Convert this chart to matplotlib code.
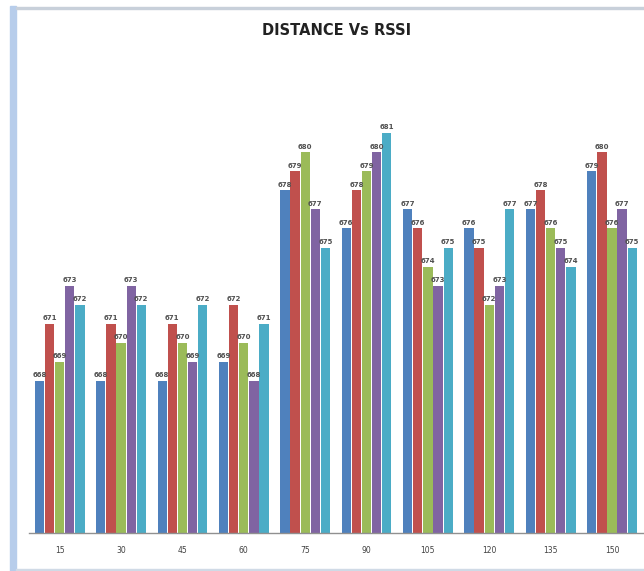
import numpy as np
import matplotlib
matplotlib.use("Agg")
import matplotlib.pyplot as plt
from matplotlib.patches import Rectangle

distances = ["15", "30", "45", "60", "75", "90", "105", "120", "135", "150"]

serie_1 = [668, 668, 668, 669, 678, 676, 677, 676, 677, 679]
serie_2 = [671, 671, 671, 672, 679, 678, 676, 675, 678, 680]
serie_3 = [669, 670, 670, 670, 680, 679, 674, 672, 676, 676]
serie_4 = [673, 673, 669, 668, 677, 680, 673, 673, 675, 677]
serie_5 = [672, 672, 672, 671, 675, 681, 675, 677, 674, 675]

series = [serie_1, serie_2, serie_3, serie_4, serie_5]
colores = ["#4F81BD", "#C0504D", "#9BBB59", "#8064A2", "#4BACC6"]

plt.rcParams["font.family"] = ["Liberation Sans Narrow", "DejaVu Sans"]

fig = plt.figure(figsize=(6.44, 5.71), dpi=100)
ax = fig.add_axes([0.045, 0.0665, 0.953, 0.80])

x = np.arange(len(distances))
ancho = 0.165
for i, (vals, col) in enumerate(zip(series, colores)):
    pos = x + (i - 2) * ancho
    ax.bar(pos, np.array(vals) - 660, bottom=660, width=ancho * 0.92,
           color=col, edgecolor="none")
    for px, v in zip(pos, vals):
        ax.text(px, v + 0.15, str(v), ha="center", va="bottom",
                fontsize=5, color="#505050", fontweight="bold")

ax.set_xlim(-0.5, len(distances) - 0.5)
ax.set_ylim(660, 684)
ax.set_xticks(x)
ax.set_xticklabels(distances, fontsize=5.5, color="#404040")
ax.tick_params(axis="x", length=0, pad=9)
ax.set_yticks([])
for lado in ["top", "right", "left"]:
    ax.spines[lado].set_visible(False)
ax.spines["bottom"].set_color("#909090")
ax.spines["bottom"].set_linewidth(1.0)

fig.text(0.522, 0.947, "DISTANCE Vs RSSI", ha="center", va="center",
         fontsize=10.5, fontweight="bold", color="#222222")

# marco del gráfico (estilo Excel)
fig.patches.append(Rectangle((0.016, 0.0), 0.009, 0.99, transform=fig.transFigure,
                             color="#B7CDEB", zorder=0))
fig.patches.append(Rectangle((0.025, 0.985), 0.975, 0.003, transform=fig.transFigure,
                             color="#C8D0DA", zorder=0))
fig.patches.append(Rectangle((0.025, 0.0), 0.975, 0.004, transform=fig.transFigure,
                             color="#D0DAE6", zorder=0))

fig.savefig("out.png", dpi=100)
